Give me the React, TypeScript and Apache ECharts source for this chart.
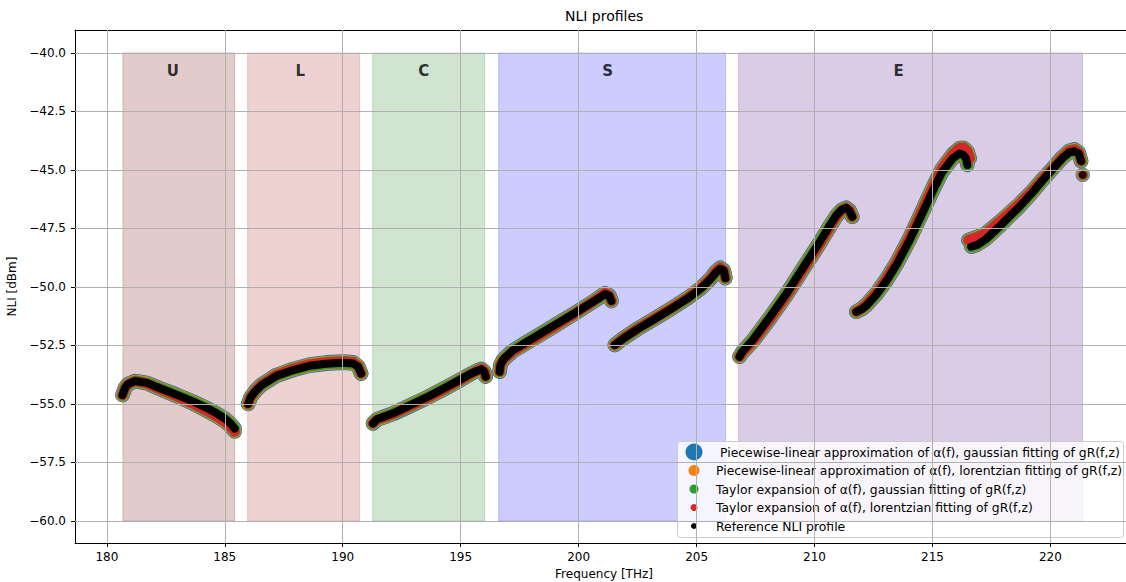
import React, { useEffect, useRef } from "react";
import * as echarts from "echarts";

// ---- axis ticks ----
const xTicks = [180, 185, 190, 195, 200, 205, 210, 215, 220];
const yTicks = [-60, -57.5, -55, -52.5, -50, -47.5, -45, -42.5, -40];
const xMin = 178.65;
const xMax = 223.5;
const yMin = -60.94;
const yMax = -39.02;

// ---- bands ----
const bandNames = ["U", "L", "C", "S", "E"];
const bandStart = [180.68, 185.97, 191.27, 196.61, 206.78];
const bandEnd = [185.42, 190.72, 196.02, 206.23, 221.36];
const bandLabelX = [182.8, 188.2, 193.43, 201.23, 213.56];
const bandLabelY = -40.77;
const bandBottom = -60;
const bandTop = -40;

// ---- series names ----
const seriesNames = [
  "Piecewise-linear approximation of α(f), gaussian fitting of gR(f,z)",
  "Piecewise-linear approximation of α(f), lorentzian fitting of gR(f,z)",
  "Taylor expansion of α(f), gaussian fitting of gR(f,z)",
  "Taylor expansion of α(f), lorentzian fitting of gR(f,z)",
  "Reference NLI profile",
];

// ---- reference NLI profile (black), per band segment [THz, dBm] ----
const refU = [[180.66, -54.62], [180.78, -54.3], [180.9, -54.15], [181.19, -54.02], [181.7, -54.1], [182.25, -54.33], [182.95, -54.6], [183.66, -54.9], [184.2, -55.15], [184.65, -55.4], [185.0, -55.62], [185.21, -55.8], [185.42, -56.05]];
const refL = [[185.99, -55.0], [186.1, -54.7], [186.3, -54.45], [186.55, -54.2], [187.19, -53.8], [187.9, -53.55], [188.6, -53.37], [189.3, -53.28], [190.0, -53.24], [190.45, -53.27], [190.65, -53.4], [190.78, -53.7]];
const refC = [[191.28, -55.83], [191.45, -55.65], [191.8, -55.52], [192.13, -55.4], [192.8, -55.08], [193.55, -54.72], [194.3, -54.33], [194.96, -53.97], [195.4, -53.72], [195.7, -53.58], [195.88, -53.52], [196.0, -53.62], [196.06, -53.83]];
const refS1 = [[196.65, -53.62], [196.68, -53.35], [196.8, -53.1], [197.2, -52.72], [197.8, -52.35], [198.49, -51.93], [199.2, -51.5], [199.9, -51.08], [200.5, -50.7], [200.9, -50.45], [201.12, -50.3], [201.3, -50.38], [201.39, -50.6]];
const refS2 = [[201.53, -52.48], [201.9, -52.2], [202.5, -51.8], [203.2, -51.38], [203.9, -50.95], [204.6, -50.5], [205.2, -50.05], [205.6, -49.65], [205.85, -49.35], [206.0, -49.22], [206.15, -49.3], [206.22, -49.62]];
const refE1 = [[206.82, -52.98], [206.95, -52.75], [207.39, -52.26], [208.1, -51.3], [208.8, -50.3], [209.5, -49.2], [210.21, -48.1], [210.6, -47.45], [210.92, -46.95], [211.15, -46.7], [211.34, -46.62], [211.48, -46.75], [211.6, -47.0]];
const refE2 = [[211.77, -51.06], [212.0, -50.95], [212.19, -50.8], [212.6, -50.35], [213.04, -49.75], [213.5, -49.0], [214.03, -48.0], [214.5, -47.0], [215.01, -45.9], [215.4, -45.1], [215.86, -44.5], [216.15, -44.3], [216.3, -44.35], [216.42, -44.5], [216.48, -44.79]];
const refE3 = [[216.64, -48.28], [216.9, -48.2], [217.27, -47.95], [217.8, -47.45], [218.3, -46.95], [218.69, -46.57], [219.2, -46.0], [219.7, -45.4], [220.1, -44.95], [220.5, -44.5], [220.8, -44.25], [221.02, -44.2], [221.2, -44.3], [221.3, -44.62]];
const refE3End = [[221.37, -45.21]];

// ---- model NLI profile (Taylor/lorentzian, red), per band segment ----
const modU = [[180.66, -54.62], [180.78, -54.3], [180.9, -54.15], [181.19, -54.02], [181.7, -54.12], [182.25, -54.36], [182.95, -54.66], [183.66, -54.99], [184.2, -55.27], [184.65, -55.52], [185.0, -55.75], [185.21, -55.93], [185.42, -56.18]];
const modL = [[185.99, -55.0], [186.1, -54.7], [186.3, -54.43], [186.55, -54.17], [187.19, -53.76], [187.9, -53.5], [188.6, -53.31], [189.3, -53.22], [190.0, -53.18], [190.45, -53.22], [190.65, -53.38], [190.78, -53.7]];
const modC = [[191.28, -55.83], [191.45, -55.67], [191.8, -55.55], [192.13, -55.43], [192.8, -55.12], [193.55, -54.76], [194.3, -54.37], [194.96, -54.0], [195.4, -53.74], [195.7, -53.57], [195.88, -53.5], [196.0, -53.6], [196.06, -53.83]];
const modS1 = [[196.65, -53.62], [196.68, -53.35], [196.8, -53.12], [197.2, -52.76], [197.8, -52.4], [198.49, -51.98], [199.2, -51.54], [199.9, -51.1], [200.5, -50.7], [200.9, -50.42], [201.12, -50.26], [201.3, -50.36], [201.39, -50.6]];
const modS2 = [[201.53, -52.48], [201.9, -52.18], [202.5, -51.78], [203.2, -51.36], [203.9, -50.93], [204.6, -50.48], [205.2, -50.02], [205.6, -49.62], [205.85, -49.3], [206.0, -49.18], [206.15, -49.28], [206.22, -49.62]];
const modE1 = [[206.82, -52.98], [206.95, -52.8], [207.39, -52.33], [208.1, -51.38], [208.8, -50.38], [209.5, -49.28], [210.21, -48.18], [210.6, -47.52], [210.92, -47.0], [211.15, -46.72], [211.34, -46.62], [211.48, -46.72], [211.6, -47.0]];
const modE2 = [[211.77, -51.06], [212.0, -50.92], [212.19, -50.75], [212.6, -50.28], [213.04, -49.66], [213.5, -48.9], [214.03, -47.88], [214.5, -46.86], [215.01, -45.74], [215.4, -44.94], [215.86, -44.32], [216.15, -44.06], [216.32, -44.05], [216.48, -44.2], [216.58, -44.5]];
const modE3 = [[216.52, -48.0], [216.9, -47.86], [217.27, -47.7], [217.8, -47.25], [218.3, -46.8], [218.69, -46.45], [219.2, -45.92], [219.7, -45.35], [220.1, -44.92], [220.5, -44.45], [220.8, -44.18], [221.02, -44.12], [221.2, -44.25], [221.3, -44.62]];
const modE3End = [[221.37, -45.21]];

const refSegments = [refU, refL, refC, refS1, refS2, refE1, refE2, refE3];
const modSegments = [modU, modL, modC, modS1, modS2, modE1, modE2, modE3];

// ---- styles ----
const seriesColors = ["#1f77b4", "#ff7f0e", "#2ca02c", "#d62728", "#000000"];
const lineWidths = [14.5, 12.8, 11.2, 9.8, 8];
const legendSizes = [17, 11, 9, 7, 6];
const legendCenters = [452, 470.5, 489, 507.5, 526];
const legendIconX = 694;
const legendTextPad = [4, 0, 0, 0, 0];
const bandColors = [
  "rgba(139,47,47,0.25)",
  "rgba(170,30,30,0.2)",
  "rgba(20,120,20,0.2)",
  "rgba(0,0,255,0.2)",
  "rgba(132,85,165,0.3)",
];
const FONT = "DejaVu Sans";

const fmt = (v: number) => (v < 0 ? "\u2212" : "") + Math.abs(v).toFixed(1);

export default function App() {
  const ref = useRef<HTMLDivElement>(null);
  useEffect(() => {
    if (!ref.current) return;
    const chart = echarts.init(ref.current, null, { renderer: "svg" });

    const series: any[] = [];
    // bands
    series.push({
      type: "line",
      name: "__bands",
      data: [],
      silent: true,
      z: 1,
      markArea: {
        silent: true,
        data: bandStart.map((s, i) => [
          {
            xAxis: s,
            yAxis: bandBottom,
            itemStyle: { color: bandColors[i], borderColor: bandColors[i], borderWidth: 1 },
          },
          { xAxis: bandEnd[i], yAxis: bandTop },
        ]),
      },
    });
    // grid lines drawn above the bands
    series.push({
      type: "line",
      name: "__grid",
      data: [],
      silent: true,
      z: 1,
      markLine: {
        silent: true,
        symbol: ["none", "none"],
        label: { show: false },
        lineStyle: { color: "#b0b0b0", width: 1, type: "solid" },
        emphasis: { disabled: true },
        data: [
          ...xTicks.map((x) => ({ xAxis: x })),
          ...yTicks.map((y) => ({ yAxis: y })),
        ],
      },
    });
    // curves
    for (let k = 0; k < 5; k++) {
      const paths: number[][][][] =
        k < 3 ? [refSegments, modSegments] : k === 3 ? [modSegments] : [refSegments];
      for (const segs of paths) {
        for (const seg of segs) {
          series.push({
            type: "line",
            name: seriesNames[k],
            data: seg,
            showSymbol: false,
            silent: true,
            z: 2,
            itemStyle: { color: seriesColors[k] },
            lineStyle: { color: seriesColors[k], width: lineWidths[k], cap: "round", join: "round" },
          });
        }
      }
      series.push({
        type: "scatter",
        name: seriesNames[k],
        data: k === 3 ? modE3End : refE3End,
        symbolSize: lineWidths[k],
        silent: true,
        z: 2,
        itemStyle: { color: seriesColors[k] },
      });
    }
    // band labels
    series.push({
      type: "scatter",
      name: "__labels",
      data: bandLabelX.map((x, i) => ({ value: [x, bandLabelY], name: bandNames[i] })),
      symbolSize: 1,
      itemStyle: { color: "rgba(0,0,0,0)" },
      silent: true,
      z: 3,
      label: {
        show: true,
        position: "inside",
        formatter: (p: any) => p.name,
        fontFamily: FONT,
        fontWeight: "bold",
        fontSize: 15,
        color: "#000",
      },
    });

    const legends = seriesNames.map((n, i) => {
      const h = Math.max(legendSizes[i], 14);
      return {
        data: [{ name: n, icon: "circle" }],
        left: legendIconX - legendSizes[i] / 2,
        top: legendCenters[i] - h / 2,
        padding: 0,
        itemWidth: 34,
        itemHeight: legendSizes[i],
        itemGap: 0,
        selectedMode: false,
        itemStyle: { borderWidth: 0 },
        textStyle: {
          fontFamily: FONT,
          fontSize: 12.4,
          color: "#000",
          lineHeight: 14,
          padding: [0, 0, 0, legendTextPad[i]],
        },
        z: 5,
      };
    });

    chart.setOption({
      animation: false,
      backgroundColor: "#fff",
      title: {
        text: "NLI profiles",
        left: 565,
        top: 9,
        padding: 0,
        textStyle: { fontFamily: FONT, fontSize: 14, fontWeight: "normal", color: "#000" },
      },
      grid: { left: 75, top: 30, right: -7, bottom: 39, containLabel: false, outerBoundsMode: "none" },
      xAxis: [
        {
          type: "value",
          min: xMin,
          max: xMax,
          name: "Frequency [THz]",
          nameLocation: "middle",
          nameGap: 25,
          nameTextStyle: { fontFamily: FONT, fontSize: 12, color: "#000" },
          axisLine: { show: true, onZero: false, lineStyle: { color: "#000", width: 1 } },
          axisTick: { show: true, length: 4, lineStyle: { color: "#000" }, customValues: xTicks },
          axisLabel: {
            fontFamily: FONT,
            fontSize: 12,
            color: "#000",
            margin: 8,
            customValues: xTicks,
            formatter: (v: number) => String(v),
          },
          splitLine: { show: false },
        },
        {
          type: "value",
          position: "top",
          min: xMin,
          max: xMax,
          axisLine: { show: true, onZero: false, lineStyle: { color: "#000", width: 1 } },
          axisTick: { show: false },
          axisLabel: { show: false },
          splitLine: { show: false },
        },
      ],
      yAxis: {
        type: "value",
        min: yMin,
        max: yMax,
        name: "NLI [dBm]",
        nameLocation: "middle",
        nameGap: 43,
        nameTextStyle: { fontFamily: FONT, fontSize: 12, color: "#000" },
        axisLine: { show: true, onZero: false, lineStyle: { color: "#000", width: 1 } },
        axisTick: { show: true, length: 4, lineStyle: { color: "#000" }, customValues: yTicks },
        axisLabel: {
          fontFamily: FONT,
          fontSize: 12,
          color: "#000",
          margin: 9,
          customValues: yTicks,
          formatter: fmt,
        },
        splitLine: { show: false },
      },
      legend: legends,
      graphic: [
        {
          type: "rect",
          left: 677,
          top: 441,
          z: 3,
          shape: { width: 446, height: 96, r: 3 },
          style: { fill: "rgba(255,255,255,0.8)", stroke: "#cccccc", lineWidth: 1 },
        },
      ],
      series,
    });
    return () => chart.dispose();
  }, []);
  return (
    <div
      ref={ref}
      style={{ position: "fixed", left: 0, top: 0, width: 1126, height: 582 }}
    />
  );
}
